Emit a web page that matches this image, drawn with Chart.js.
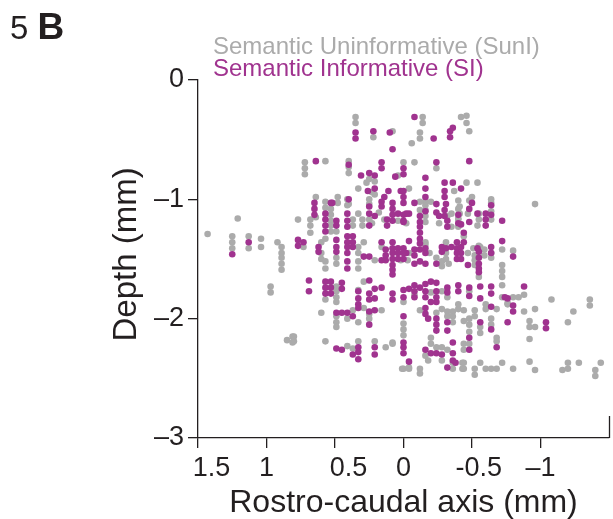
<!DOCTYPE html>
<html><head><meta charset="utf-8">
<script src="https://cdn.jsdelivr.net/npm/chart.js@4"></script>
<style>
html,body{margin:0;padding:0;background:#fff;}
#wrap{position:relative;width:613px;height:519px;overflow:hidden;}
canvas{position:absolute;left:0;top:0;}
.panel{position:absolute;left:10px;top:10px;font-family:"Liberation Sans",Arial,sans-serif;font-size:33px;line-height:33px;color:#231f20;white-space:nowrap;}
.panel b{font-weight:bold;font-size:37px;}
.leg{position:absolute;left:213px;font-family:"Liberation Sans",Arial,sans-serif;font-size:24px;line-height:24px;white-space:nowrap;}
</style></head><body>
<div id="wrap">
<canvas id="c" width="613" height="519"></canvas>
<div class="panel">5 <b>B</b></div>
<div class="leg" style="top:34px;color:#ababab">Semantic Uninformative (SunI)</div>
<div class="leg" style="top:56px;color:#a0338f">Semantic Informative (SI)</div>
</div>
<script>
// ---- data (x: rostro-caudal mm, y: depth mm) ----
const xTicks = [1.5, 1, 0.5, 0, -0.5, -1];
const xTickLabels = ['\u20031.5', '1', '\u20030.5', '0', '\u2002-0.5', '\u20131'];
const yTicks = [0, -1, -2, -3];
const yTickLabels = ['0', '\u20131', '\u20132', '\u20133'];
const xAxisEnd = -1.5;

const suniPoints = [
[1.43,-1.29],[1.21,-1.16],[1.25,-1.31],[1.25,-1.36],[1.25,-1.41],[1.13,-1.31],[1.13,-1.41],
[1.04,-1.33],[1.04,-1.40],[0.92,-1.36],[0.89,-1.40],[0.89,-1.45],[0.89,-1.49],[0.89,-1.54],[0.89,-1.59],
[0.97,-1.73],[0.97,-1.78],[0.85,-2.18],[0.81,-2.15],[0.81,-2.20],[0.77,-1.17],[0.73,-1.40],
[0.68,-1.17],[0.68,-1.22],[0.68,-1.28],[0.72,-0.69],[0.72,-0.74],[0.72,-0.79],[0.57,-0.68],
[0.64,-0.98],[0.64,-1.15],[0.57,-1.02],[0.57,-1.07],[0.53,-1.08],[0.53,-1.13],[0.53,-1.18],[0.53,-1.22],[0.53,-1.27],
[0.48,-0.98],[0.48,-1.03],[0.49,-1.27],[0.40,-0.68],[0.40,-0.73],[0.40,-0.78],[0.40,-1.04],[0.41,-1.00],[0.41,-1.05],
[0.37,-1.17],[0.37,-1.22],[0.33,-1.12],[0.30,-1.17],[0.30,-1.22],[0.35,-0.31],[0.35,-0.36],[0.22,-0.48],[0.08,-0.43],
[0.27,-0.86],[0.25,-0.83],[0.21,-0.85],[0.23,-0.94],[0.21,-0.96],[0.33,-0.91],[0.04,-0.80],[-0.04,-0.91],
[0.25,-1.00],[0.25,-1.04],[0.00,-0.69],[0.25,-1.17],[0.23,-1.20],[0.14,-1.17],[0.18,-1.11],[0.04,-1.18],[-0.02,-1.20],
[0.60,-1.36],[0.57,-1.33],[0.60,-1.45],[0.60,-1.50],[0.57,-1.52],[0.57,-1.58],[0.49,-1.49],[0.49,-1.54],
[0.33,-1.40],[0.33,-1.45],[0.33,-1.52],[0.33,-1.58],[0.29,-1.36],[0.21,-1.51],[0.16,-1.40],[0.02,-1.51],[-0.03,-1.51],[-0.04,-1.45],
[0.49,-1.73],[0.49,-1.77],[0.49,-1.82],[0.49,-1.86],[0.33,-1.76],[0.29,-1.69],[0.57,-1.84],[0.60,-1.95],
[0.49,-1.98],[0.49,-2.03],[0.49,-2.07],[0.41,-2.00],[0.37,-1.93],[0.33,-2.03],[0.29,-1.91],[0.25,-1.96],[0.25,-2.00],[0.16,-1.93],
[0.00,-1.86],[0.00,-2.04],[0.00,-2.09],[0.00,-2.14],[0.00,-2.42],[-0.04,-2.41],[0.80,-2.15],[0.80,-2.19],[0.57,-2.19],
[0.41,-2.23],[0.37,-2.25],[0.33,-2.19],[0.21,-2.19],[0.13,-2.24],[0.08,-2.21],
[-0.14,-0.31],[-0.14,-0.36],[-0.42,-0.31],[-0.46,-0.30],[-0.46,-0.36],[-0.48,-0.43],[-0.12,-0.44],[-0.12,-0.49],[-0.06,-0.53],
[-0.08,-0.69],[-0.24,-0.74],[-0.37,-0.93],[-0.46,-0.86],[-0.54,-0.86],[-0.40,-1.01],[-0.48,-1.01],[-0.50,-0.98],
[-0.64,-1.00],[-0.64,-1.03],[-0.64,-1.10],[-0.12,-1.02],[-0.16,-1.02],[-0.20,-1.02],[-0.96,-1.04],
[-0.40,-1.08],[-0.41,-1.12],[-0.40,-1.17],[-0.40,-1.23],[-0.54,-1.22],[-0.64,-1.17],[-0.44,-1.31],[-0.31,-1.36],
[-0.72,-1.42],[-0.80,-1.43],[-0.56,-1.40],[-0.12,-1.09],[-0.16,-1.05],[-0.16,-1.09],[-0.16,-1.14],[-0.16,-1.19],
[-0.26,-1.20],[-0.32,-1.14],[-0.35,-1.12],[-0.35,-1.23],[-0.40,-1.16],[-0.41,-1.06],[-0.47,-1.12],[-0.55,-1.12],[-0.55,-1.17],
[-0.16,-1.36],[-0.16,-1.38],[-0.19,-1.45],[-0.24,-1.49],[-0.28,-1.52],[-0.28,-1.56],[-0.31,-1.41],[-0.31,-1.45],[-0.31,-1.50],[-0.33,-1.54],
[-0.47,-1.45],[-0.51,-1.41],[-0.52,-1.47],[-0.52,-1.51],[-0.52,-1.55],[-0.55,-1.39],[-0.59,-1.42],[-0.59,-1.47],[-0.55,-1.65],
[-0.64,-1.45],[-0.64,-1.49],[-0.72,-1.55],[-0.72,-1.60],[-0.72,-1.65],[-0.72,-1.72],
[-0.72,-1.82],[-0.80,-1.82],[-0.84,-1.82],[-0.88,-1.80],[-1.08,-1.84],[-1.36,-1.84],[-1.36,-1.89],[-1.24,-1.94],[-0.76,-1.88],
[-0.88,-1.94],[-0.92,-2.02],[-0.92,-2.07],[-0.96,-1.92],[-0.96,-2.07],[-1.20,-2.03],[-0.92,-2.17],[-0.92,-2.36],[-0.96,-2.43],
[-1.16,-2.43],[-1.20,-2.42],[-1.20,-2.37],[-1.28,-2.37],[-1.40,-2.43],[-1.40,-2.48],[-1.44,-2.37],[-0.80,-2.42],[-0.72,-2.37],
[-0.60,-2.42],[-0.64,-2.42],[-0.68,-2.42],[-0.56,-2.37],[-0.52,-2.42],[-0.52,-2.47],[-0.43,-2.42],[-0.43,-2.37],[-0.36,-2.42],[-0.36,-2.37],
[-0.12,-2.42],[-0.12,-2.46],[-0.04,-2.42],[0.01,-2.42],[0.08,-2.20],
[-0.08,-1.80],[-0.20,-1.78],[-0.28,-1.77],[-0.32,-1.82],[-0.48,-1.77],[-0.76,-1.87],[-0.60,-1.88],[-0.60,-1.92],[-0.68,-1.92],
[-0.12,-1.93],[-0.24,-1.95],[-0.28,-1.92],[-0.32,-1.94],[-0.32,-1.98],[-0.36,-1.94],[-0.36,-1.98],[-0.36,-2.03],
[-0.40,-1.88],[-0.40,-1.92],[-0.44,-1.93],[-0.44,-2.02],[-0.48,-2.00],[-0.48,-2.05],[-0.48,-2.11],[-0.48,-2.21],
[-0.44,-2.21],[-0.44,-2.26],[-0.52,-1.93],[-0.52,-1.98],[-0.56,-2.07],[-0.56,-2.12],[-0.64,-2.00],[-0.64,-2.05],
[-0.68,-2.16],[-0.68,-2.19],[-0.44,-2.37],[-0.44,-2.42],[-0.20,-2.16],[-0.20,-2.21],[-0.24,-2.24],[-0.28,-2.24],[-0.32,-2.26],
[-0.16,-2.31],[-0.18,-2.35],[-0.28,-2.35]
];

const siPoints = [
[1.25,-1.46],[1.13,-1.36],[0.77,-1.34],[0.73,-1.36],[0.77,-1.39],[0.64,-0.68],[0.35,-0.44],[0.35,-0.49],[0.22,-0.43],
[0.10,-0.44],[0.08,-0.58],[0.65,-1.03],[0.65,-1.08],[0.65,-1.13],[0.52,-1.03],[0.40,-0.71],[0.16,-0.69],[0.16,-0.74],
[0.00,-0.74],[0.00,-0.79],[0.31,-0.80],[0.25,-0.78],[0.21,-0.80],[0.21,-0.91],[0.26,-0.93],[0.11,-0.93],[0.06,-0.81],
[0.02,-0.93],[0.00,-0.93],[0.00,-0.98],[0.40,-1.00],[0.16,-1.02],[0.14,-0.98],[0.08,-1.03],[0.00,-1.03],
[-0.08,-0.31],[-0.36,-0.40],[-0.34,-0.43],[-0.34,-0.48],[-0.22,-0.49],[-0.24,-0.69],[-0.48,-0.68],
[-0.16,-0.82],[-0.16,-0.91],[-0.16,-0.98],[-0.30,-0.86],[-0.30,-0.93],[-0.30,-0.98],[-0.36,-0.86],[-0.42,-0.91],
[-0.64,-1.05],[-0.08,-1.03],[-0.24,-1.04],[-0.31,-1.04],[-0.50,-1.03],[-0.64,-1.13],[-0.48,-1.08],[-0.40,-1.13],[-0.40,-1.20],
[-0.54,-1.12],[-0.60,-1.12],[-0.60,-1.17],[-0.60,-1.22],[-0.48,-1.19],[-0.72,-1.18],[-0.44,-1.28],[-0.31,-1.41],
[-0.72,-1.35],[-0.80,-1.48],[-0.64,-1.40],[-0.64,-1.45],[-0.54,-1.41],[-0.88,-1.73],[-0.76,-1.83],[-0.80,-1.89],[-0.80,-1.94],
[-0.76,-2.03],[-1.04,-2.03],[-1.04,-2.08],[-0.32,-2.41],[-0.36,-2.35],[-0.04,-2.36],
[-0.08,-1.77],[-0.08,-1.82],[-0.16,-1.77],[-0.16,-1.82],[-0.24,-1.77],[-0.24,-1.82],[-0.24,-1.86],[-0.20,-1.86],
[-0.32,-1.78],[-0.40,-1.77],[-0.48,-1.81],[-0.56,-1.83],[-0.64,-1.79],[-0.74,-1.82],[-0.64,-1.90],
[-0.16,-1.91],[-0.16,-1.96],[-0.18,-2.00],[-0.24,-2.00],[-0.24,-2.05],[-0.24,-2.10],[-0.32,-2.03],[-0.32,-2.10],
[-0.48,-2.16],[-0.48,-2.26],[-0.56,-2.03],[-0.64,-2.09],[-0.68,-2.24],[-0.36,-2.20],[-0.36,-2.29],[-0.38,-2.37],
[-0.16,-2.26],[-0.20,-2.29],[-0.24,-2.29],[-0.28,-2.30],[0.00,-2.20],[0.00,-2.24],[0.00,-2.29],[0.00,-1.98],
[-0.12,-1.14],[-0.12,-1.19],[-0.12,-1.23],[-0.12,-1.28],[-0.12,-1.33],[-0.12,-1.37],[-0.04,-1.12],[0.00,-1.19],
[-0.16,-1.10],[-0.24,-1.11],[-0.26,-1.14],[-0.30,-1.09],[-0.30,-1.14],[-0.32,-1.18],[-0.32,-1.23],[-0.42,-1.21],
[-0.04,-1.35],[-0.02,-1.45],[-0.08,-1.42],[-0.08,-1.47],[-0.12,-1.42],[-0.16,-1.41],[-0.16,-1.45],
[-0.12,-1.52],[-0.16,-1.54],[-0.08,-1.54],[-0.24,-1.54],[-0.28,-1.40],[-0.28,-1.44],
[-0.35,-1.40],[-0.39,-1.36],[-0.39,-1.41],[-0.39,-1.45],[-0.39,-1.50],[-0.42,-1.40],[-0.42,-1.45],[-0.42,-1.50],
[-0.44,-1.36],[-0.47,-1.55],[-0.55,-1.44],[-0.55,-1.49],[-0.55,-1.54],[-0.55,-1.58],[-0.55,-1.61],[-0.64,-1.73],[-0.56,-1.73],
[-0.04,-1.75],[-0.08,-1.72],[-0.12,-1.74],[-0.16,-1.71],[-0.20,-1.69],[-0.24,-1.70],[-0.32,-1.74],[-0.40,-1.72],[-0.48,-1.74],
[0.57,-1.12],[0.57,-1.17],[0.57,-1.22],[0.57,-1.27],[0.53,-1.03],[0.49,-1.18],[0.49,-1.22],[0.41,-1.12],[0.41,-1.18],[0.41,-1.23],
[0.25,-1.06],[0.25,-1.12],[0.25,-1.22],[0.16,-1.06],[0.21,-1.14],[0.08,-1.08],[0.08,-1.13],[0.08,-1.18],[0.04,-1.12],
[0.00,-1.13],[0.00,-1.18],[-0.02,-1.12],[0.12,-1.17],[0.12,-1.22],[0.62,-1.40],[0.62,-1.44],[0.49,-1.34],[0.49,-1.40],[0.49,-1.44],
[0.41,-1.31],[0.41,-1.36],[0.41,-1.40],[0.41,-1.45],[0.41,-1.52],[0.41,-1.58],[0.37,-1.31],[0.37,-1.36],[0.37,-1.40],
[0.29,-1.48],[0.25,-1.48],[0.16,-1.51],[0.16,-1.36],[0.13,-1.42],[0.13,-1.47],[0.13,-1.51],
[0.08,-1.36],[0.08,-1.41],[0.08,-1.45],[0.08,-1.50],[0.08,-1.55],[0.08,-1.59],[0.08,-1.63],[0.04,-1.41],[0.04,-1.45],[0.04,-1.50],
[0.00,-1.41],[0.00,-1.45],[0.00,-1.50],[0.69,-1.68],[0.69,-1.77],[0.57,-1.69],[0.57,-1.74],[0.57,-1.79],[0.53,-1.69],[0.53,-1.74],[0.53,-1.79],
[0.45,-1.70],[0.45,-1.75],[0.25,-1.68],[0.21,-1.75],[0.16,-1.74],[0.00,-1.76],[0.49,-1.95],[0.45,-1.95],[0.41,-1.95],[0.37,-1.98],
[0.33,-1.77],[0.33,-1.83],[0.33,-1.88],[0.33,-1.91],[0.25,-1.79],[0.25,-1.84],[0.25,-1.94],[0.25,-2.05],[0.21,-1.93],
[0.08,-1.79],[0.08,-1.84],[0.00,-1.82],[0.49,-2.25],[0.45,-2.26],[0.33,-2.24],[0.33,-2.28],[0.33,-2.34],[0.37,-2.30],
[0.21,-2.24],[0.21,-2.30],[0.21,-1.83]
];

const seriesNames = ['Semantic Informative (SI)', 'Semantic Uninformative (SunI)'];
const seriesColors = ['#a0338f', '#ababab'];

const FONT = '"Liberation Sans", Arial, Helvetica, sans-serif';
const INK = '#231f20';

const endTick = {
  id: 'endTick',
  afterDraw(chart) {
    const {ctx, chartArea, scales} = chart;
    const px = Math.min(scales.x.getPixelForValue(xAxisEnd), chart.width - 1) + 0.5;
    ctx.save();
    ctx.strokeStyle = INK; ctx.lineWidth = 1.3;
    ctx.beginPath(); ctx.moveTo(px, chartArea.bottom); ctx.lineTo(px, chartArea.bottom - 22); ctx.stroke();
    ctx.restore();
  }
};

const toXY = arr => arr.map(p => ({x: p[0], y: p[1]}));

new Chart(document.getElementById('c'), {
  type: 'scatter',
  data: {
    datasets: [
      {label: seriesNames[0], data: toXY(siPoints), backgroundColor: seriesColors[0], borderWidth: 0, pointRadius: 3.3, order: 0},
      {label: seriesNames[1], data: toXY(suniPoints), backgroundColor: seriesColors[1], borderWidth: 0, pointRadius: 3.3, order: 1}
    ]
  },
  options: {
    responsive: false, animation: false, devicePixelRatio: 1,
    layout: {padding: {left: 0, top: 80, right: 1, bottom: 0}},
    plugins: {legend: {display: false}, tooltip: {enabled: false}},
    scales: {
      x: {
        type: 'linear', reverse: true, min: -1.5, max: 1.5,
        afterBuildTicks: s => { s.ticks = xTicks.map(v => ({value: v})); },
        afterFit: s => { s.height = 81; },
        ticks: {callback: (v, i) => xTickLabels[i], font: {family: FONT, size: 27}, color: INK, padding: 4, maxRotation: 0, autoSkip: false},
        grid: {display: true, drawOnChartArea: false, drawTicks: true, tickLength: 10, color: INK, lineWidth: 1.3},
        border: {display: true, color: INK, width: 1.3},
        title: {display: true, text: 'Rostro-caudal axis (mm)', font: {family: FONT, size: 32}, color: INK, padding: {top: 0, bottom: -3}}
      },
      y: {
        type: 'linear', min: -3, max: 0,
        afterBuildTicks: s => { s.ticks = yTicks.map(v => ({value: v})); },
        afterFit: s => { s.width = 198; },
        ticks: {callback: (v, i) => yTickLabels[i], font: {family: FONT, size: 27}, color: INK, padding: 4, autoSkip: false},
        grid: {display: true, drawOnChartArea: false, drawTicks: true, tickLength: 10, color: INK, lineWidth: 1.3},
        border: {display: true, color: INK, width: 1.3},
        title: {display: true, text: ' Depth (mm)', font: {family: FONT, size: 33}, color: INK, padding: {top: 107, bottom: 0}}
      }
    }
  },
  plugins: [endTick]
});
</script>
</body></html>
